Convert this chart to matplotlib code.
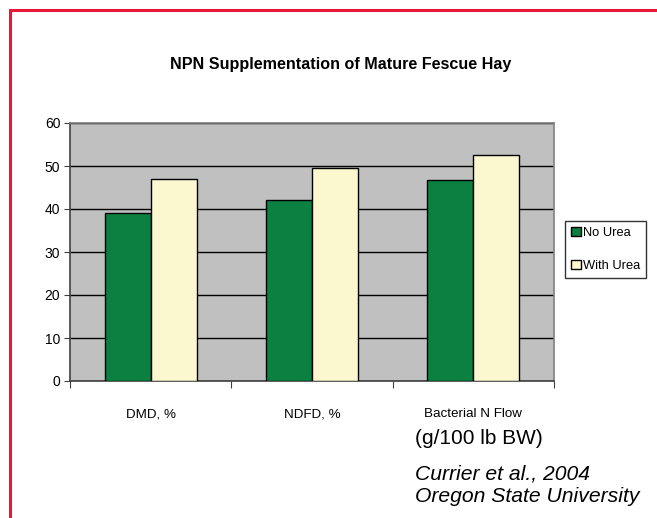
import numpy as np
import matplotlib.pyplot as plt
from matplotlib.patches import Rectangle

categories = ['DMD, %', 'NDFD, %', 'Bacterial N Flow']
no_urea = [39, 42, 46.7]
with_urea = [47, 49.5, 52.6]
series_names = ['No Urea', 'With Urea']
yticks = [0, 10, 20, 30, 40, 50, 60]

font = 'Liberation Sans'

fig = plt.figure(figsize=(6.57, 5.18), dpi=100)
fig.patch.set_facecolor('white')

# red frame round the slide
fig.patches.append(Rectangle((10 / 657, -0.1), 1.2, 1 - 10 / 518 + 0.1,
                             transform=fig.transFigure, fill=False,
                             edgecolor='#E8173A', linewidth=2.2))

ax = fig.add_axes([70 / 657, 137 / 518, 484 / 657, 258 / 518])
ax.set_facecolor('#C0C0C0')

x = np.arange(len(categories))
w = 0.285
ax.bar(x - w / 2, no_urea, w, color='#0B8040', edgecolor='black', linewidth=1,
       label=series_names[0], zorder=3)
ax.bar(x + w / 2, with_urea, w, color='#FBF8D0', edgecolor='black', linewidth=1,
       label=series_names[1], zorder=3)

ax.set_xlim(-0.5, 2.5)
ax.set_ylim(0, 60)
ax.set_yticks(yticks)
ax.set_yticklabels([str(t) for t in yticks], family=font, fontsize=10)
ax.yaxis.grid(True, color='black', linewidth=1)
ax.set_axisbelow(True)

ax.set_xticks([-0.5, 0.5, 1.5, 2.5])
ax.set_xticklabels([])
ax.tick_params(axis='x', direction='out', length=5, color='#404040')
ax.tick_params(axis='y', direction='out', length=4, color='#404040', pad=3)
for i, c in enumerate(categories):
    ax.text(i, -7.7, c, ha='center', va='center', family=font, fontsize=9.6)

for s in ['top', 'right']:
    ax.spines[s].set_color('#808080')
    ax.spines[s].set_linewidth(1.2)
for s in ['left', 'bottom']:
    ax.spines[s].set_color('#404040')
    ax.spines[s].set_linewidth(1.2)

fig.text(341 / 657, 1 - 64 / 518, 'NPN Supplementation of Mature Fescue Hay',
         ha='center', va='center', family=font, fontweight='bold', fontsize=11.6)

leg = ax.legend(loc='upper left', bbox_to_anchor=(565 / 657, 1 - 221 / 518),
                bbox_transform=fig.transFigure, frameon=True, fancybox=False,
                prop={'family': font, 'size': 9.3}, handlelength=0.75,
                handleheight=0.75, handletextpad=0.2, borderpad=0.45,
                labelspacing=1.6, borderaxespad=0)
leg.get_frame().set_edgecolor('black')
leg.get_frame().set_linewidth(1)

fig.text(479 / 657, 1 - 438 / 518, '(g/100 lb BW)', ha='center', va='center',
         family=font, fontsize=15)
fig.text(415 / 657, 1 - 474 / 518, 'Currier et al., 2004', ha='left', va='center',
         family=font, style='italic', fontsize=15.2)
fig.text(415 / 657, 1 - 497 / 518, 'Oregon State University', ha='left', va='center',
         family=font, style='italic', fontsize=15.2)

fig.savefig('out.png', dpi=100)
